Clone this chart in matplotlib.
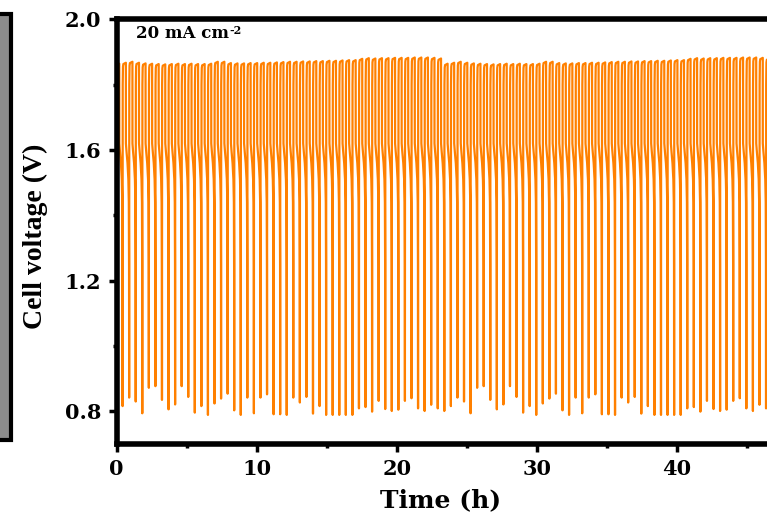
import matplotlib
matplotlib.use('Agg')
import numpy as np
import matplotlib.pyplot as plt
from matplotlib.patches import Rectangle
from matplotlib.ticker import MultipleLocator

# discharge-end voltage of each cycle (V), first 50 cycles; the record then repeats
v_min_half = [0.816, 0.842, 0.830, 0.794, 0.872, 0.877, 0.835, 0.806, 0.821, 0.877,
              0.844, 0.796, 0.816, 0.789, 0.824, 0.839, 0.854, 0.803, 0.789, 0.842,
              0.794, 0.842, 0.852, 0.791, 0.791, 0.789, 0.842, 0.827, 0.844, 0.793,
              0.816, 0.789, 0.789, 0.789, 0.789, 0.789, 0.809, 0.813, 0.799, 0.832,
              0.807, 0.801, 0.805, 0.832, 0.840, 0.809, 0.801, 0.820, 0.809, 0.801]
# charge plateau voltage of each cycle (V)
v_top_half = [1.864, 1.867, 1.870, 1.867, 1.865, 1.864, 1.863, 1.862, 1.863, 1.864,
              1.863, 1.864, 1.863, 1.863, 1.864, 1.870, 1.870, 1.866, 1.865, 1.865,
              1.866, 1.866, 1.867, 1.867, 1.868, 1.869, 1.870, 1.870, 1.871, 1.871,
              1.872, 1.872, 1.873, 1.873, 1.874, 1.875, 1.875, 1.879, 1.881, 1.880,
              1.881, 1.881, 1.882, 1.882, 1.882, 1.883, 1.883, 1.883, 1.882, 1.880]
v_min = v_min_half + v_min_half
v_top = v_top_half + v_top_half

first_min = 0.42   # h, end of first discharge
period = 0.469     # h per charge/discharge cycle

# shape of one cycle: fraction of period after the previous discharge end
charge_phase = [0.004, 0.02, 0.06, 0.12, 0.5]
charge_drop = [None, None, 0.012, 0.004, 0.0]   # below plateau
charge_abs = [1.72, 1.80, None, None, None]
dis_phase = [0.505, 0.6, 0.75, 0.88, 0.95, 0.985]
dis_volt = [1.62, 1.595, 1.56, 1.51, 1.44, 1.25]

t, v = [], []
for k in range(len(v_min)):
    start = first_min + (k - 1) * period
    for ph, d, a in zip(charge_phase, charge_drop, charge_abs):
        t.append(start + ph * period)
        v.append(a if a is not None else v_top[k] - d)
    for ph, dv in zip(dis_phase, dis_volt):
        t.append(start + ph * period)
        v.append(dv)
    t.append(start + period)
    v.append(v_min[k])
t = np.array(t)
v = np.array(v)

plt.rcParams['font.family'] = ['DejaVu Serif']
plt.rcParams['font.weight'] = 'bold'

fig = plt.figure(figsize=(7.67, 5.16), dpi=100)
ax = fig.add_axes([116.7 / 767, 72 / 516, 700 / 767, 424.7 / 516])

ax.plot(t, v, color='#ff8000', lw=1.6)

ax.set_xlim(0, 50)
ax.set_ylim(0.7, 2.0)
ax.set_xticks([0, 10, 20, 30, 40])
ax.set_xticks([5, 15, 25, 35, 45], minor=True)
ax.set_yticks([0.8, 1.2, 1.6, 2.0])
ax.set_yticks([1.0, 1.4, 1.8], minor=True)
ax.set_yticklabels(['0.8', '1.2', '1.6', '2.0'])

for s in ax.spines.values():
    s.set_linewidth(4)
ax.tick_params(which='major', direction='out', length=6, width=2.5, labelsize=15, pad=5)
ax.tick_params(which='minor', direction='out', length=3, width=2.5)

ax.set_xlabel('Time (h)', fontsize=18, fontweight='bold')
ax.xaxis.set_label_coords(0.462, -0.105)
ax.set_ylabel('Cell voltage (V)', fontsize=20, fontweight='bold',
              family='Liberation Serif')
ax.yaxis.set_label_coords(-0.098, 0.49)

lab = ax.text(0.028, 0.955, '20 mA cm', transform=ax.transAxes,
              fontsize=12, fontweight='bold', va='baseline')
ax.annotate('-2', xy=(1.0, 1.05), xycoords=lab, fontsize=8, fontweight='bold',
            ha='left', va='top')

# edge of the neighbouring panel on the left
fig.patches.append(Rectangle((-10 / 767, 76 / 516), 20.5 / 767, 426 / 516,
                             transform=fig.transFigure, facecolor='#8c8c8c',
                             edgecolor='black', lw=3))

fig.savefig('out.png', dpi=100)
